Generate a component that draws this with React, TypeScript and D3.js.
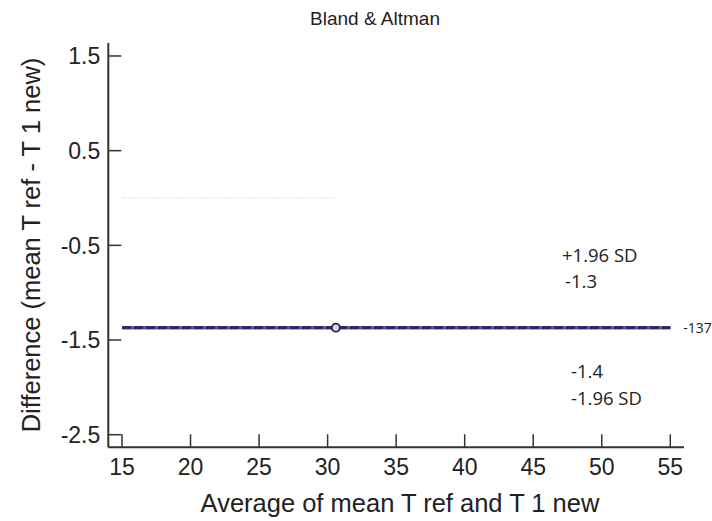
import React, { useEffect } from "react";
import * as d3 from "d3";

const W = 712;
const H = 521;

const title = "Bland & Altman";
const xLabel = "Average of mean T ref and T 1 new";
const yLabel = "Difference (mean T ref - T 1 new)";

const xTicks = [15, 20, 25, 30, 35, 40, 45, 50, 55];
const yTicks = [1.5, 0.5, -0.5, -1.5, -2.5];
const yTickLabels = ["1.5", "0.5", "-0.5", "-1.5", "-2.5"];

const pointX = [30.6];
const pointY = [-1.37];

const meanDiff = -1.37;
const sdDiff = 0;
const meanLabel = "-137";
const upperLabel = ["+1.96 SD", "-1.3"];
const lowerLabel = ["-1.4", "-1.96 SD"];
const equalityRange = [15, 30.6];
const lineRange = [15, 55];

const x = d3.scaleLinear().domain([14, 56]).range([108.3, 684]);
const y = d3.scaleLinear().domain([1.637, -2.633]).range([43, 447.3]);

export default function App() {
  useEffect(() => {
    document.body.style.margin = "0";
  }, []);
  const upper = meanDiff + 1.96 * sdDiff;
  const lower = meanDiff - 1.96 * sdDiff;
  const axisFont = "'Liberation Sans', Arial, sans-serif";
  const annFont = "'Open Sans', 'Noto Sans', sans-serif";
  const x0 = x.range()[0];
  const y0 = y.range()[1];
  const tick = 13;
  return (
    <svg width={W} height={H} style={{ display: "block", background: "#fff" }}>
      <text x={375} y={25} textAnchor="middle" fontFamily={axisFont} fontSize={19} fill="#222">
        {title}
      </text>
      {/* axes */}
      <line x1={x0} x2={x0} y1={y.range()[0]} y2={y0} stroke="#333" strokeWidth={2} />
      <line x1={x0} x2={x.range()[1]} y1={y0} y2={y0} stroke="#333" strokeWidth={2} />
      {yTicks.map((t, i) => (
        <g key={"yt" + i}>
          <line x1={x0} x2={x0 + tick} y1={y(t)} y2={y(t)} stroke="#333" strokeWidth={1.5} />
          <text x={x0 - 8} y={y(t)} dy="0.36em" textAnchor="end" fontFamily={axisFont} fontSize={23} fill="#222">
            {yTickLabels[i]}
          </text>
        </g>
      ))}
      {xTicks.map((t, i) => (
        <g key={"xt" + i}>
          <line x1={x(t)} x2={x(t)} y1={y0} y2={y0 - tick} stroke="#333" strokeWidth={1.5} />
          <text x={x(t)} y={y0 + 28} textAnchor="middle" fontFamily={axisFont} fontSize={23} fill="#222">
            {t}
          </text>
        </g>
      ))}
      <text x={400} y={512} textAnchor="middle" fontFamily={axisFont} fontSize={25.5} fill="#222">
        {xLabel}
      </text>
      <text
        transform={`translate(40, 245) rotate(-90)`}
        textAnchor="middle"
        fontFamily={axisFont}
        fontSize={25.5}
        fill="#222"
      >
        {yLabel}
      </text>
      {/* line of equality (dotted) */}
      <line
        x1={x(equalityRange[0])}
        x2={x(equalityRange[1])}
        y1={y(0)}
        y2={y(0)}
        stroke="#e2cfae"
        strokeWidth={1.2}
        strokeDasharray="1.5,1.5"
      />
      {/* mean and limits */}
      <line x1={x(lineRange[0])} x2={x(lineRange[1])} y1={y(meanDiff)} y2={y(meanDiff)} stroke="#6b4fa6" strokeWidth={3.5} />
      <line x1={x(lineRange[0])} x2={x(lineRange[1])} y1={y(upper)} y2={y(upper)} stroke="#30245f" strokeWidth={2.5} strokeDasharray="9,3" />
      <line x1={x(lineRange[0])} x2={x(lineRange[1])} y1={y(lower)} y2={y(lower)} stroke="#30245f" strokeWidth={2.5} strokeDasharray="9,3" />
      {pointX.map((px, i) => (
        <circle key={"p" + i} cx={x(px)} cy={y(pointY[i])} r={4} fill="#d8d4ec" stroke="#2a1b5c" strokeWidth={1.8} />
      ))}
      <text x={x(lineRange[1]) + 13} y={y(meanDiff)} dy="0.35em" fontFamily={annFont} fontSize={14} fill="#222">
        {meanLabel}
      </text>
      <text x={562} y={262} fontFamily={annFont} fontSize={18.5} fill="#222">{upperLabel[0]}</text>
      <text x={565} y={288} fontFamily={annFont} fontSize={18.5} fill="#222">{upperLabel[1]}</text>
      <text x={571} y={378} fontFamily={annFont} fontSize={18.5} fill="#222">{lowerLabel[0]}</text>
      <text x={571} y={405} fontFamily={annFont} fontSize={18.5} fill="#222">{lowerLabel[1]}</text>
    </svg>
  );
}
